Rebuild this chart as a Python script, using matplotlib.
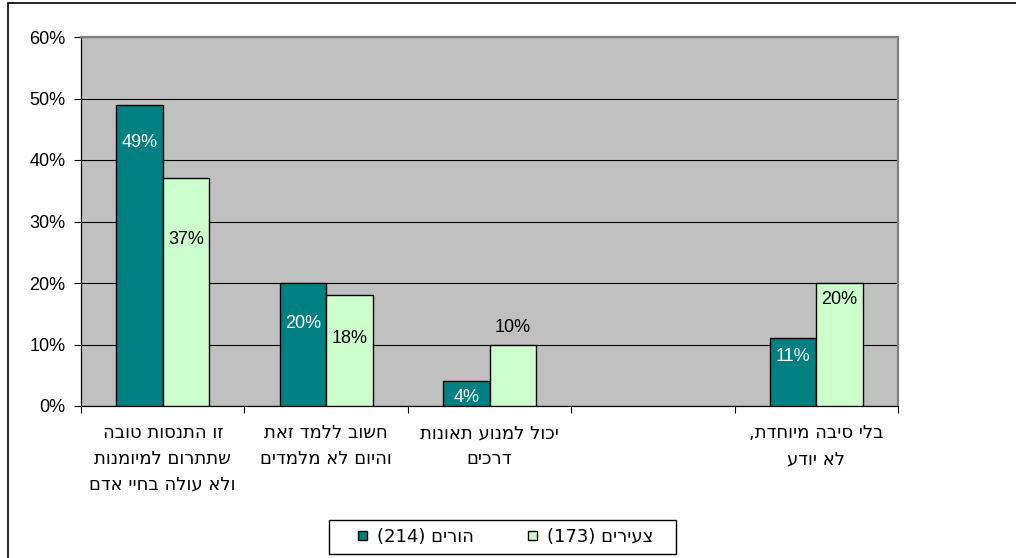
import matplotlib
matplotlib.use("Agg")
import matplotlib.pyplot as plt
from matplotlib.patches import Rectangle
import numpy as np

plt.rcParams["font.family"] = ["Liberation Sans", "DejaVu Sans"]

# ── data (Hebrew in logical order) ──────────────────────────────────────────
categories = [
    ["זו התנסות טובה", "שתתרום למיומנות", "ולא עולה בחיי אדם"],
    ["חשוב ללמד זאת", "והיום לא מלמדים"],
    ["יכול למנוע תאונות", "דרכים"],
    [""],
    ["בלי סיבה מיוחדת,", "לא יודע"],
]
series_names = ["הורים (214)", "צעירים (173)"]
parents = [49, 20, 4, None, 11]
youth = [37, 18, 10, None, 20]
yticks = [0, 10, 20, 30, 40, 50, 60]

# label placement relative to bar top, in pixels (style only)
parents_label_dy = [-38, -40, -16, 0, -18]
youth_label_dy = [-61, -43, 17, 0, -16]

TEAL = "#008080"
LIGHT = "#CCFFCC"
PLOT_BG = "#C0C0C0"
FS = 13
HEB_FONT = ["DejaVu Sans", "Liberation Sans"]


def rtl(s):
    """Crude visual-order conversion for Hebrew (no bidi support in mpl)."""
    out = []
    for word in s.split(" ")[::-1]:
        if any("\u0590" <= ch <= "\u05ff" for ch in word):
            out.append(word[::-1])
        else:
            out.append(word)
    return " ".join(out)


fig = plt.figure(figsize=(10.16, 5.58), dpi=100)
ax = fig.add_axes([81 / 1016, 1 - 406 / 558, (898 - 81) / 1016, (406 - 37) / 558])
ax.set_facecolor(PLOT_BG)

x = np.arange(len(categories))
w = 0.285

for i, (p, y) in enumerate(zip(parents, youth)):
    if p is not None:
        ax.bar(x[i] - w / 2, p, w, color=TEAL, edgecolor="black", linewidth=1, zorder=3)
        ax.annotate(f"{p}%", (x[i] - w / 2, p), xytext=(0, parents_label_dy[i]),
                    textcoords="offset pixels", ha="center", va="center",
                    color="white", fontsize=FS, zorder=4)
    if y is not None:
        ax.bar(x[i] + w / 2, y, w, color=LIGHT, edgecolor="black", linewidth=1, zorder=3)
        ax.annotate(f"{y}%", (x[i] + w / 2, y), xytext=(0, youth_label_dy[i]),
                    textcoords="offset pixels", ha="center", va="center",
                    color="black", fontsize=FS, zorder=4)

ax.set_xlim(-0.5, len(categories) - 0.5)
ax.set_ylim(0, 60)
ax.set_yticks(yticks)
ax.set_yticklabels([f"{t}%" for t in yticks], fontsize=FS)
ax.yaxis.grid(True, color="black", linewidth=0.8, zorder=1)
ax.set_axisbelow(True)

# category boundaries carry the tick marks, labels sit in between
ax.set_xticks(np.arange(len(categories) + 1) - 0.5)
ax.set_xticklabels([])
ax.tick_params(axis="x", direction="out", length=5, width=0.8)
ax.tick_params(axis="y", direction="out", length=5, width=0.8, pad=6)
for i, lines in enumerate(categories):
    ax.text(x[i], -0.05, "\n".join(rtl(l) for l in lines),
            transform=ax.get_xaxis_transform(), ha="center", va="top",
            fontsize=FS, linespacing=1.55, family=HEB_FONT)

for side in ("left", "bottom"):
    ax.spines[side].set_color("black")
    ax.spines[side].set_linewidth(0.9)
for side in ("top", "right"):
    ax.spines[side].set_color("#808080")
    ax.spines[side].set_linewidth(1.6)

handles = [Rectangle((0, 0), 1, 1, facecolor=TEAL, edgecolor="black", linewidth=1),
           Rectangle((0, 0), 1, 1, facecolor=LIGHT, edgecolor="black", linewidth=1)]
leg = fig.legend(handles, [rtl(s) for s in series_names], loc="center",
                 bbox_to_anchor=(506 / 1016, 1 - 537 / 558), ncol=2,
                 prop={"family": HEB_FONT, "size": FS}, frameon=False,
                 handlelength=0.45, handleheight=0.45, handletextpad=0.6,
                 columnspacing=3.0, borderpad=0.0)
# legend frame, as drawn in the original
fig.patches.append(Rectangle((329 / 1016, 1 - 554 / 558), 347 / 1016, 34 / 558,
                             transform=fig.transFigure, fill=False,
                             edgecolor="black", linewidth=1))

# outer chart border (only left/top visible in the original)
fig.patches.append(Rectangle((8 / 1016, -0.1), 1.2, 1.1 - 3 / 558,
                             transform=fig.transFigure, fill=False,
                             edgecolor="black", linewidth=1.2))

fig.savefig("out.png", dpi=100)
